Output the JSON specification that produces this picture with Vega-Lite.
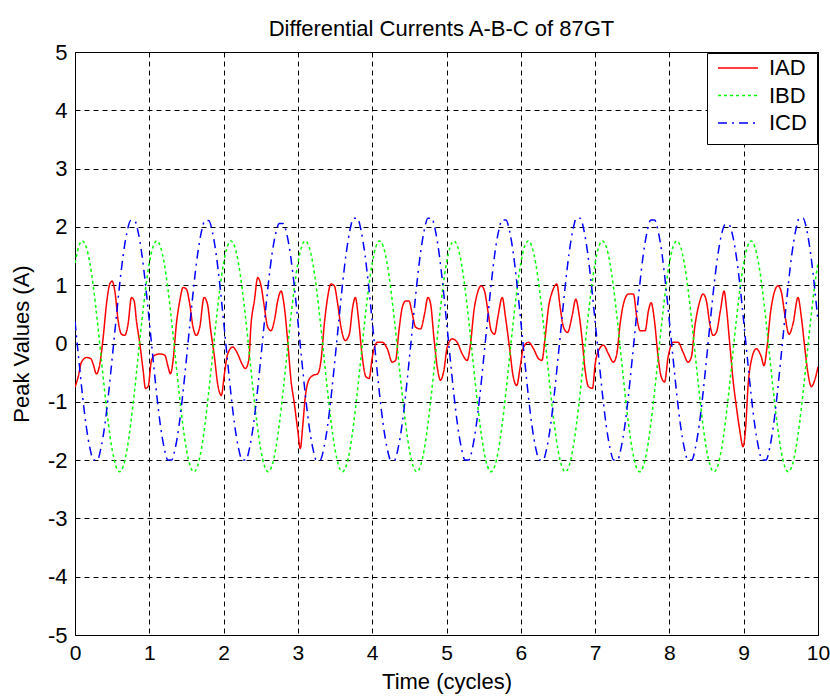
{
  "$schema": "https://vega.github.io/schema/vega-lite/v6.json",
  "width": 743,
  "height": 583,
  "autosize": {"type": "none"},
  "padding": {"left": 75, "top": 52, "right": 12, "bottom": 62},
  "background": "white",
  "title": {"text": "Differential Currents A-B-C of 87GT", "frame": "group", "baseline": "alphabetic", "offset": 18, "dy": 35, "dx": -5, "fontSize": 22, "font": "Liberation Sans", "fontWeight": "normal", "color": "black"},
  "config": {
    "view": {"stroke": "black", "strokeWidth": 1},
    "font": "Liberation Sans",
    "axis": {"grid": true, "gridColor": "black", "gridDash": [5, 4], "gridWidth": 1, "gridOpacity": 1, "ticks": false, "tickSize": 0, "domain": false, "labelFontSize": 22, "labelFont": "Liberation Sans", "labelColor": "black", "labelPadding": 7, "labelFlush": false, "labelOverlap": false, "labelExpr": "'' + datum.value", "titleFontSize": 22, "titleFont": "Liberation Sans", "titleFontWeight": "normal", "titleColor": "black"},
    "legend": {"orient": "top-right", "offset": 1, "fillColor": "white", "strokeColor": "black", "padding": 10, "cornerRadius": 0, "symbolType": "stroke", "symbolSize": 1600, "symbolStrokeWidth": 1.5, "clipHeight": 10, "rowPadding": 5.5, "labelFontSize": 22, "labelFont": "Liberation Sans", "labelColor": "black", "labelOffset": 10, "symbolOffset": 0, "labelExpr": "datum.label + '  '"}
  },
  "data": {"values": [
    {"t":0,"v":-0.75,"s":"IAD"},{"t":0.043,"v":-0.57,"s":"IAD"},{"t":0.087,"v":-0.32,"s":"IAD"},{"t":0.155,"v":-0.24,"s":"IAD"},{"t":0.213,"v":-0.26,"s":"IAD"},{"t":0.244,"v":-0.35,"s":"IAD"},{"t":0.289,"v":-0.52,"s":"IAD"},{"t":0.334,"v":-0.35,"s":"IAD"},{"t":0.379,"v":0.1,"s":"IAD"},{"t":0.424,"v":0.68,"s":"IAD"},{"t":0.468,"v":1.02,"s":"IAD"},{"t":0.5,"v":1.07,"s":"IAD"},{"t":0.536,"v":0.9,"s":"IAD"},{"t":0.581,"v":0.39,"s":"IAD"},{"t":0.625,"v":0.16,"s":"IAD"},{"t":0.67,"v":0.14,"s":"IAD"},{"t":0.715,"v":0.34,"s":"IAD"},{"t":0.76,"v":0.79,"s":"IAD"},{"t":0.796,"v":0.73,"s":"IAD"},{"t":0.827,"v":0.39,"s":"IAD"},{"t":0.872,"v":0.0,"s":"IAD"},{"t":0.917,"v":-0.46,"s":"IAD"},{"t":0.948,"v":-0.77,"s":"IAD"},{"t":0.984,"v":-0.74,"s":"IAD"},
    {"t":1.029,"v":-0.29,"s":"IAD"},{"t":1.074,"v":-0.2,"s":"IAD"},{"t":1.141,"v":-0.18,"s":"IAD"},{"t":1.208,"v":-0.2,"s":"IAD"},{"t":1.253,"v":-0.4,"s":"IAD"},{"t":1.284,"v":-0.52,"s":"IAD"},{"t":1.32,"v":-0.29,"s":"IAD"},{"t":1.365,"v":0.34,"s":"IAD"},{"t":1.41,"v":0.73,"s":"IAD"},{"t":1.455,"v":0.96,"s":"IAD"},{"t":1.5,"v":0.93,"s":"IAD"},{"t":1.544,"v":0.68,"s":"IAD"},{"t":1.589,"v":0.28,"s":"IAD"},{"t":1.634,"v":0.14,"s":"IAD"},{"t":1.679,"v":0.28,"s":"IAD"},{"t":1.737,"v":0.79,"s":"IAD"},{"t":1.782,"v":0.68,"s":"IAD"},{"t":1.827,"v":0.22,"s":"IAD"},{"t":1.872,"v":-0.18,"s":"IAD"},{"t":1.926,"v":-0.74,"s":"IAD"},{"t":1.97,"v":-0.89,"s":"IAD"},
    {"t":2.011,"v":-0.52,"s":"IAD"},{"t":2.055,"v":-0.18,"s":"IAD"},{"t":2.123,"v":-0.06,"s":"IAD"},{"t":2.19,"v":-0.18,"s":"IAD"},{"t":2.248,"v":-0.35,"s":"IAD"},{"t":2.293,"v":-0.43,"s":"IAD"},{"t":2.338,"v":-0.29,"s":"IAD"},{"t":2.37,"v":0.34,"s":"IAD"},{"t":2.414,"v":0.73,"s":"IAD"},{"t":2.459,"v":1.13,"s":"IAD"},{"t":2.504,"v":0.99,"s":"IAD"},{"t":2.549,"v":0.62,"s":"IAD"},{"t":2.594,"v":0.28,"s":"IAD"},{"t":2.638,"v":0.22,"s":"IAD"},{"t":2.683,"v":0.39,"s":"IAD"},{"t":2.728,"v":0.73,"s":"IAD"},{"t":2.773,"v":0.9,"s":"IAD"},{"t":2.818,"v":0.62,"s":"IAD"},{"t":2.862,"v":0.05,"s":"IAD"},{"t":2.907,"v":-0.63,"s":"IAD"},{"t":2.952,"v":-1.03,"s":"IAD"},{"t":2.997,"v":-1.48,"s":"IAD"},
    {"t":3.033,"v":-1.8,"s":"IAD"},{"t":3.064,"v":-1.43,"s":"IAD"},{"t":3.1,"v":-0.91,"s":"IAD"},{"t":3.145,"v":-0.63,"s":"IAD"},{"t":3.199,"v":-0.55,"s":"IAD"},{"t":3.266,"v":-0.52,"s":"IAD"},{"t":3.311,"v":-0.29,"s":"IAD"},{"t":3.356,"v":0.34,"s":"IAD"},{"t":3.4,"v":0.79,"s":"IAD"},{"t":3.445,"v":1.02,"s":"IAD"},{"t":3.49,"v":0.99,"s":"IAD"},{"t":3.535,"v":0.68,"s":"IAD"},{"t":3.58,"v":0.28,"s":"IAD"},{"t":3.638,"v":0.05,"s":"IAD"},{"t":3.692,"v":0.16,"s":"IAD"},{"t":3.737,"v":0.62,"s":"IAD"},{"t":3.773,"v":0.79,"s":"IAD"},{"t":3.818,"v":0.39,"s":"IAD"},{"t":3.862,"v":-0.18,"s":"IAD"},{"t":3.916,"v":-0.57,"s":"IAD"},{"t":3.959,"v":-0.6,"s":"IAD"},
    {"t":4.002,"v":-0.23,"s":"IAD"},{"t":4.069,"v":0.02,"s":"IAD"},{"t":4.136,"v":0.02,"s":"IAD"},{"t":4.203,"v":-0.09,"s":"IAD"},{"t":4.27,"v":-0.32,"s":"IAD"},{"t":4.315,"v":-0.29,"s":"IAD"},{"t":4.36,"v":0.22,"s":"IAD"},{"t":4.405,"v":0.62,"s":"IAD"},{"t":4.45,"v":0.73,"s":"IAD"},{"t":4.494,"v":0.73,"s":"IAD"},{"t":4.539,"v":0.51,"s":"IAD"},{"t":4.584,"v":0.28,"s":"IAD"},{"t":4.651,"v":0.25,"s":"IAD"},{"t":4.705,"v":0.51,"s":"IAD"},{"t":4.75,"v":0.79,"s":"IAD"},{"t":4.786,"v":0.68,"s":"IAD"},{"t":4.83,"v":0.11,"s":"IAD"},{"t":4.875,"v":-0.4,"s":"IAD"},{"t":4.92,"v":-0.63,"s":"IAD"},{"t":4.965,"v":-0.46,"s":"IAD"},
    {"t":5.01,"v":-0.06,"s":"IAD"},{"t":5.077,"v":0.08,"s":"IAD"},{"t":5.144,"v":0.02,"s":"IAD"},{"t":5.212,"v":-0.18,"s":"IAD"},{"t":5.279,"v":-0.29,"s":"IAD"},{"t":5.324,"v":0.0,"s":"IAD"},{"t":5.369,"v":0.56,"s":"IAD"},{"t":5.413,"v":0.85,"s":"IAD"},{"t":5.467,"v":0.99,"s":"IAD"},{"t":5.512,"v":0.9,"s":"IAD"},{"t":5.557,"v":0.56,"s":"IAD"},{"t":5.602,"v":0.22,"s":"IAD"},{"t":5.647,"v":0.16,"s":"IAD"},{"t":5.691,"v":0.45,"s":"IAD"},{"t":5.75,"v":0.79,"s":"IAD"},{"t":5.794,"v":0.45,"s":"IAD"},{"t":5.853,"v":-0.12,"s":"IAD"},{"t":5.898,"v":-0.57,"s":"IAD"},{"t":5.945,"v":-0.72,"s":"IAD"},{"t":5.992,"v":-0.4,"s":"IAD"},
    {"t":6.037,"v":-0.06,"s":"IAD"},{"t":6.104,"v":0.02,"s":"IAD"},{"t":6.171,"v":-0.09,"s":"IAD"},{"t":6.239,"v":-0.26,"s":"IAD"},{"t":6.284,"v":-0.29,"s":"IAD"},{"t":6.328,"v":0.11,"s":"IAD"},{"t":6.373,"v":0.62,"s":"IAD"},{"t":6.427,"v":0.9,"s":"IAD"},{"t":6.485,"v":1.02,"s":"IAD"},{"t":6.53,"v":0.62,"s":"IAD"},{"t":6.575,"v":0.28,"s":"IAD"},{"t":6.629,"v":0.19,"s":"IAD"},{"t":6.687,"v":0.45,"s":"IAD"},{"t":6.741,"v":0.76,"s":"IAD"},{"t":6.777,"v":0.56,"s":"IAD"},{"t":6.822,"v":0.11,"s":"IAD"},{"t":6.866,"v":-0.46,"s":"IAD"},{"t":6.911,"v":-0.74,"s":"IAD"},{"t":6.965,"v":-0.77,"s":"IAD"},
    {"t":7.001,"v":-0.35,"s":"IAD"},{"t":7.046,"v":-0.12,"s":"IAD"},{"t":7.113,"v":-0.03,"s":"IAD"},{"t":7.18,"v":-0.18,"s":"IAD"},{"t":7.247,"v":-0.32,"s":"IAD"},{"t":7.292,"v":-0.18,"s":"IAD"},{"t":7.337,"v":0.34,"s":"IAD"},{"t":7.382,"v":0.68,"s":"IAD"},{"t":7.449,"v":0.85,"s":"IAD"},{"t":7.516,"v":0.85,"s":"IAD"},{"t":7.561,"v":0.45,"s":"IAD"},{"t":7.606,"v":0.22,"s":"IAD"},{"t":7.673,"v":0.22,"s":"IAD"},{"t":7.718,"v":0.56,"s":"IAD"},{"t":7.754,"v":0.7,"s":"IAD"},{"t":7.799,"v":0.39,"s":"IAD"},{"t":7.844,"v":-0.18,"s":"IAD"},{"t":7.889,"v":-0.57,"s":"IAD"},{"t":7.935,"v":-0.66,"s":"IAD"},{"t":7.983,"v":-0.23,"s":"IAD"},
    {"t":8.05,"v":0.02,"s":"IAD"},{"t":8.117,"v":0.02,"s":"IAD"},{"t":8.184,"v":-0.15,"s":"IAD"},{"t":8.252,"v":-0.32,"s":"IAD"},{"t":8.296,"v":-0.23,"s":"IAD"},{"t":8.341,"v":0.28,"s":"IAD"},{"t":8.4,"v":0.68,"s":"IAD"},{"t":8.453,"v":0.85,"s":"IAD"},{"t":8.498,"v":0.73,"s":"IAD"},{"t":8.543,"v":0.34,"s":"IAD"},{"t":8.588,"v":0.14,"s":"IAD"},{"t":8.632,"v":0.19,"s":"IAD"},{"t":8.686,"v":0.56,"s":"IAD"},{"t":8.736,"v":0.9,"s":"IAD"},{"t":8.767,"v":0.62,"s":"IAD"},{"t":8.812,"v":0.0,"s":"IAD"},{"t":8.857,"v":-0.63,"s":"IAD"},{"t":8.902,"v":-1.09,"s":"IAD"},{"t":8.946,"v":-1.48,"s":"IAD"},{"t":8.991,"v":-1.77,"s":"IAD"},
    {"t":9.027,"v":-1.43,"s":"IAD"},{"t":9.058,"v":-0.74,"s":"IAD"},{"t":9.103,"v":-0.29,"s":"IAD"},{"t":9.17,"v":-0.09,"s":"IAD"},{"t":9.237,"v":-0.23,"s":"IAD"},{"t":9.273,"v":-0.38,"s":"IAD"},{"t":9.314,"v":-0.06,"s":"IAD"},{"t":9.359,"v":0.51,"s":"IAD"},{"t":9.417,"v":0.9,"s":"IAD"},{"t":9.462,"v":0.99,"s":"IAD"},{"t":9.507,"v":0.88,"s":"IAD"},{"t":9.552,"v":0.51,"s":"IAD"},{"t":9.61,"v":0.16,"s":"IAD"},{"t":9.664,"v":0.34,"s":"IAD"},{"t":9.731,"v":0.79,"s":"IAD"},{"t":9.776,"v":0.45,"s":"IAD"},{"t":9.821,"v":-0.06,"s":"IAD"},{"t":9.866,"v":-0.52,"s":"IAD"},{"t":9.91,"v":-0.74,"s":"IAD"},{"t":9.955,"v":-0.63,"s":"IAD"},{"t":10,"v":-0.4,"s":"IAD"},

    {"t":0,"v":1.38,"s":"IBD"},{"t":0.05,"v":1.66,"s":"IBD"},{"t":0.1,"v":1.76,"s":"IBD"},{"t":0.15,"v":1.66,"s":"IBD"},{"t":0.2,"v":1.38,"s":"IBD"},{"t":0.25,"v":0.94,"s":"IBD"},{"t":0.3,"v":0.39,"s":"IBD"},{"t":0.35,"v":-0.22,"s":"IBD"},{"t":0.4,"v":-0.83,"s":"IBD"},{"t":0.45,"v":-1.38,"s":"IBD"},{"t":0.5,"v":-1.82,"s":"IBD"},{"t":0.55,"v":-2.1,"s":"IBD"},{"t":0.6,"v":-2.2,"s":"IBD"},{"t":0.65,"v":-2.1,"s":"IBD"},{"t":0.7,"v":-1.82,"s":"IBD"},{"t":0.75,"v":-1.38,"s":"IBD"},{"t":0.8,"v":-0.83,"s":"IBD"},{"t":0.85,"v":-0.22,"s":"IBD"},{"t":0.9,"v":0.39,"s":"IBD"},{"t":0.95,"v":0.94,"s":"IBD"},
    {"t":1,"v":1.38,"s":"IBD"},{"t":1.05,"v":1.66,"s":"IBD"},{"t":1.1,"v":1.76,"s":"IBD"},{"t":1.15,"v":1.66,"s":"IBD"},{"t":1.2,"v":1.38,"s":"IBD"},{"t":1.25,"v":0.94,"s":"IBD"},{"t":1.3,"v":0.39,"s":"IBD"},{"t":1.35,"v":-0.22,"s":"IBD"},{"t":1.4,"v":-0.83,"s":"IBD"},{"t":1.45,"v":-1.38,"s":"IBD"},{"t":1.5,"v":-1.82,"s":"IBD"},{"t":1.55,"v":-2.1,"s":"IBD"},{"t":1.6,"v":-2.2,"s":"IBD"},{"t":1.65,"v":-2.1,"s":"IBD"},{"t":1.7,"v":-1.82,"s":"IBD"},{"t":1.75,"v":-1.38,"s":"IBD"},{"t":1.8,"v":-0.83,"s":"IBD"},{"t":1.85,"v":-0.22,"s":"IBD"},{"t":1.9,"v":0.39,"s":"IBD"},{"t":1.95,"v":0.94,"s":"IBD"},
    {"t":2,"v":1.38,"s":"IBD"},{"t":2.05,"v":1.66,"s":"IBD"},{"t":2.1,"v":1.76,"s":"IBD"},{"t":2.15,"v":1.66,"s":"IBD"},{"t":2.2,"v":1.38,"s":"IBD"},{"t":2.25,"v":0.94,"s":"IBD"},{"t":2.3,"v":0.39,"s":"IBD"},{"t":2.35,"v":-0.22,"s":"IBD"},{"t":2.4,"v":-0.83,"s":"IBD"},{"t":2.45,"v":-1.38,"s":"IBD"},{"t":2.5,"v":-1.82,"s":"IBD"},{"t":2.55,"v":-2.1,"s":"IBD"},{"t":2.6,"v":-2.2,"s":"IBD"},{"t":2.65,"v":-2.1,"s":"IBD"},{"t":2.7,"v":-1.82,"s":"IBD"},{"t":2.75,"v":-1.38,"s":"IBD"},{"t":2.8,"v":-0.83,"s":"IBD"},{"t":2.85,"v":-0.22,"s":"IBD"},{"t":2.9,"v":0.39,"s":"IBD"},{"t":2.95,"v":0.94,"s":"IBD"},
    {"t":3,"v":1.38,"s":"IBD"},{"t":3.05,"v":1.66,"s":"IBD"},{"t":3.1,"v":1.76,"s":"IBD"},{"t":3.15,"v":1.66,"s":"IBD"},{"t":3.2,"v":1.38,"s":"IBD"},{"t":3.25,"v":0.94,"s":"IBD"},{"t":3.3,"v":0.39,"s":"IBD"},{"t":3.35,"v":-0.22,"s":"IBD"},{"t":3.4,"v":-0.83,"s":"IBD"},{"t":3.45,"v":-1.38,"s":"IBD"},{"t":3.5,"v":-1.82,"s":"IBD"},{"t":3.55,"v":-2.1,"s":"IBD"},{"t":3.6,"v":-2.2,"s":"IBD"},{"t":3.65,"v":-2.1,"s":"IBD"},{"t":3.7,"v":-1.82,"s":"IBD"},{"t":3.75,"v":-1.38,"s":"IBD"},{"t":3.8,"v":-0.83,"s":"IBD"},{"t":3.85,"v":-0.22,"s":"IBD"},{"t":3.9,"v":0.39,"s":"IBD"},{"t":3.95,"v":0.94,"s":"IBD"},
    {"t":4,"v":1.38,"s":"IBD"},{"t":4.05,"v":1.66,"s":"IBD"},{"t":4.1,"v":1.76,"s":"IBD"},{"t":4.15,"v":1.66,"s":"IBD"},{"t":4.2,"v":1.38,"s":"IBD"},{"t":4.25,"v":0.94,"s":"IBD"},{"t":4.3,"v":0.39,"s":"IBD"},{"t":4.35,"v":-0.22,"s":"IBD"},{"t":4.4,"v":-0.83,"s":"IBD"},{"t":4.45,"v":-1.38,"s":"IBD"},{"t":4.5,"v":-1.82,"s":"IBD"},{"t":4.55,"v":-2.1,"s":"IBD"},{"t":4.6,"v":-2.2,"s":"IBD"},{"t":4.65,"v":-2.1,"s":"IBD"},{"t":4.7,"v":-1.82,"s":"IBD"},{"t":4.75,"v":-1.38,"s":"IBD"},{"t":4.8,"v":-0.83,"s":"IBD"},{"t":4.85,"v":-0.22,"s":"IBD"},{"t":4.9,"v":0.39,"s":"IBD"},{"t":4.95,"v":0.94,"s":"IBD"},
    {"t":5,"v":1.38,"s":"IBD"},{"t":5.05,"v":1.66,"s":"IBD"},{"t":5.1,"v":1.76,"s":"IBD"},{"t":5.15,"v":1.66,"s":"IBD"},{"t":5.2,"v":1.38,"s":"IBD"},{"t":5.25,"v":0.94,"s":"IBD"},{"t":5.3,"v":0.39,"s":"IBD"},{"t":5.35,"v":-0.22,"s":"IBD"},{"t":5.4,"v":-0.83,"s":"IBD"},{"t":5.45,"v":-1.38,"s":"IBD"},{"t":5.5,"v":-1.82,"s":"IBD"},{"t":5.55,"v":-2.1,"s":"IBD"},{"t":5.6,"v":-2.2,"s":"IBD"},{"t":5.65,"v":-2.1,"s":"IBD"},{"t":5.7,"v":-1.82,"s":"IBD"},{"t":5.75,"v":-1.38,"s":"IBD"},{"t":5.8,"v":-0.83,"s":"IBD"},{"t":5.85,"v":-0.22,"s":"IBD"},{"t":5.9,"v":0.39,"s":"IBD"},{"t":5.95,"v":0.94,"s":"IBD"},
    {"t":6,"v":1.38,"s":"IBD"},{"t":6.05,"v":1.66,"s":"IBD"},{"t":6.1,"v":1.76,"s":"IBD"},{"t":6.15,"v":1.66,"s":"IBD"},{"t":6.2,"v":1.38,"s":"IBD"},{"t":6.25,"v":0.94,"s":"IBD"},{"t":6.3,"v":0.39,"s":"IBD"},{"t":6.35,"v":-0.22,"s":"IBD"},{"t":6.4,"v":-0.83,"s":"IBD"},{"t":6.45,"v":-1.38,"s":"IBD"},{"t":6.5,"v":-1.82,"s":"IBD"},{"t":6.55,"v":-2.1,"s":"IBD"},{"t":6.6,"v":-2.2,"s":"IBD"},{"t":6.65,"v":-2.1,"s":"IBD"},{"t":6.7,"v":-1.82,"s":"IBD"},{"t":6.75,"v":-1.38,"s":"IBD"},{"t":6.8,"v":-0.83,"s":"IBD"},{"t":6.85,"v":-0.22,"s":"IBD"},{"t":6.9,"v":0.39,"s":"IBD"},{"t":6.95,"v":0.94,"s":"IBD"},
    {"t":7,"v":1.38,"s":"IBD"},{"t":7.05,"v":1.66,"s":"IBD"},{"t":7.1,"v":1.76,"s":"IBD"},{"t":7.15,"v":1.66,"s":"IBD"},{"t":7.2,"v":1.38,"s":"IBD"},{"t":7.25,"v":0.94,"s":"IBD"},{"t":7.3,"v":0.39,"s":"IBD"},{"t":7.35,"v":-0.22,"s":"IBD"},{"t":7.4,"v":-0.83,"s":"IBD"},{"t":7.45,"v":-1.38,"s":"IBD"},{"t":7.5,"v":-1.82,"s":"IBD"},{"t":7.55,"v":-2.1,"s":"IBD"},{"t":7.6,"v":-2.2,"s":"IBD"},{"t":7.65,"v":-2.1,"s":"IBD"},{"t":7.7,"v":-1.82,"s":"IBD"},{"t":7.75,"v":-1.38,"s":"IBD"},{"t":7.8,"v":-0.83,"s":"IBD"},{"t":7.85,"v":-0.22,"s":"IBD"},{"t":7.9,"v":0.39,"s":"IBD"},{"t":7.95,"v":0.94,"s":"IBD"},
    {"t":8,"v":1.38,"s":"IBD"},{"t":8.05,"v":1.66,"s":"IBD"},{"t":8.1,"v":1.76,"s":"IBD"},{"t":8.15,"v":1.66,"s":"IBD"},{"t":8.2,"v":1.38,"s":"IBD"},{"t":8.25,"v":0.94,"s":"IBD"},{"t":8.3,"v":0.39,"s":"IBD"},{"t":8.35,"v":-0.22,"s":"IBD"},{"t":8.4,"v":-0.83,"s":"IBD"},{"t":8.45,"v":-1.38,"s":"IBD"},{"t":8.5,"v":-1.82,"s":"IBD"},{"t":8.55,"v":-2.1,"s":"IBD"},{"t":8.6,"v":-2.2,"s":"IBD"},{"t":8.65,"v":-2.1,"s":"IBD"},{"t":8.7,"v":-1.82,"s":"IBD"},{"t":8.75,"v":-1.38,"s":"IBD"},{"t":8.8,"v":-0.83,"s":"IBD"},{"t":8.85,"v":-0.22,"s":"IBD"},{"t":8.9,"v":0.39,"s":"IBD"},{"t":8.95,"v":0.94,"s":"IBD"},
    {"t":9,"v":1.38,"s":"IBD"},{"t":9.05,"v":1.66,"s":"IBD"},{"t":9.1,"v":1.76,"s":"IBD"},{"t":9.15,"v":1.66,"s":"IBD"},{"t":9.2,"v":1.38,"s":"IBD"},{"t":9.25,"v":0.94,"s":"IBD"},{"t":9.3,"v":0.39,"s":"IBD"},{"t":9.35,"v":-0.22,"s":"IBD"},{"t":9.4,"v":-0.83,"s":"IBD"},{"t":9.45,"v":-1.38,"s":"IBD"},{"t":9.5,"v":-1.82,"s":"IBD"},{"t":9.55,"v":-2.1,"s":"IBD"},{"t":9.6,"v":-2.2,"s":"IBD"},{"t":9.65,"v":-2.1,"s":"IBD"},{"t":9.7,"v":-1.82,"s":"IBD"},{"t":9.75,"v":-1.38,"s":"IBD"},{"t":9.8,"v":-0.83,"s":"IBD"},{"t":9.85,"v":-0.22,"s":"IBD"},{"t":9.9,"v":0.39,"s":"IBD"},{"t":9.95,"v":0.94,"s":"IBD"},{"t":10,"v":1.38,"s":"IBD"},

    {"t":0,"v":0.38,"s":"ICD"},{"t":0.05,"v":-0.26,"s":"ICD"},{"t":0.1,"v":-0.88,"s":"ICD"},{"t":0.15,"v":-1.41,"s":"ICD"},{"t":0.2,"v":-1.79,"s":"ICD"},{"t":0.25,"v":-2,"s":"ICD"},{"t":0.3,"v":-2,"s":"ICD"},{"t":0.35,"v":-1.79,"s":"ICD"},{"t":0.4,"v":-1.41,"s":"ICD"},{"t":0.45,"v":-0.88,"s":"ICD"},{"t":0.5,"v":-0.26,"s":"ICD"},{"t":0.55,"v":0.38,"s":"ICD"},{"t":0.6,"v":1,"s":"ICD"},{"t":0.65,"v":1.53,"s":"ICD"},{"t":0.7,"v":1.91,"s":"ICD"},{"t":0.75,"v":2.11,"s":"ICD"},{"t":0.8,"v":2.11,"s":"ICD"},{"t":0.85,"v":1.91,"s":"ICD"},{"t":0.9,"v":1.53,"s":"ICD"},{"t":0.95,"v":1,"s":"ICD"},
    {"t":1,"v":0.38,"s":"ICD"},{"t":1.05,"v":-0.26,"s":"ICD"},{"t":1.1,"v":-0.88,"s":"ICD"},{"t":1.15,"v":-1.41,"s":"ICD"},{"t":1.2,"v":-1.79,"s":"ICD"},{"t":1.25,"v":-2,"s":"ICD"},{"t":1.3,"v":-2,"s":"ICD"},{"t":1.35,"v":-1.79,"s":"ICD"},{"t":1.4,"v":-1.41,"s":"ICD"},{"t":1.45,"v":-0.88,"s":"ICD"},{"t":1.5,"v":-0.26,"s":"ICD"},{"t":1.55,"v":0.38,"s":"ICD"},{"t":1.6,"v":1,"s":"ICD"},{"t":1.65,"v":1.53,"s":"ICD"},{"t":1.7,"v":1.91,"s":"ICD"},{"t":1.75,"v":2.11,"s":"ICD"},{"t":1.8,"v":2.11,"s":"ICD"},{"t":1.85,"v":1.91,"s":"ICD"},{"t":1.9,"v":1.53,"s":"ICD"},{"t":1.95,"v":1,"s":"ICD"},
    {"t":2,"v":0.38,"s":"ICD"},{"t":2.05,"v":-0.26,"s":"ICD"},{"t":2.1,"v":-0.88,"s":"ICD"},{"t":2.15,"v":-1.41,"s":"ICD"},{"t":2.2,"v":-1.79,"s":"ICD"},{"t":2.25,"v":-2,"s":"ICD"},{"t":2.3,"v":-2,"s":"ICD"},{"t":2.35,"v":-1.79,"s":"ICD"},{"t":2.4,"v":-1.41,"s":"ICD"},{"t":2.45,"v":-0.88,"s":"ICD"},{"t":2.5,"v":-0.26,"s":"ICD"},{"t":2.55,"v":0.38,"s":"ICD"},{"t":2.6,"v":1,"s":"ICD"},{"t":2.65,"v":1.52,"s":"ICD"},{"t":2.7,"v":1.88,"s":"ICD"},{"t":2.75,"v":2.06,"s":"ICD"},{"t":2.8,"v":2.06,"s":"ICD"},{"t":2.85,"v":1.88,"s":"ICD"},{"t":2.9,"v":1.52,"s":"ICD"},{"t":2.95,"v":1,"s":"ICD"},
    {"t":3,"v":0.38,"s":"ICD"},{"t":3.05,"v":-0.26,"s":"ICD"},{"t":3.1,"v":-0.88,"s":"ICD"},{"t":3.15,"v":-1.41,"s":"ICD"},{"t":3.2,"v":-1.79,"s":"ICD"},{"t":3.25,"v":-2,"s":"ICD"},{"t":3.3,"v":-2,"s":"ICD"},{"t":3.35,"v":-1.79,"s":"ICD"},{"t":3.4,"v":-1.41,"s":"ICD"},{"t":3.45,"v":-0.88,"s":"ICD"},{"t":3.5,"v":-0.26,"s":"ICD"},{"t":3.55,"v":0.38,"s":"ICD"},{"t":3.6,"v":1.01,"s":"ICD"},{"t":3.65,"v":1.55,"s":"ICD"},{"t":3.7,"v":1.94,"s":"ICD"},{"t":3.75,"v":2.15,"s":"ICD"},{"t":3.8,"v":2.15,"s":"ICD"},{"t":3.85,"v":1.94,"s":"ICD"},{"t":3.9,"v":1.55,"s":"ICD"},{"t":3.95,"v":1.01,"s":"ICD"},
    {"t":4,"v":0.38,"s":"ICD"},{"t":4.05,"v":-0.26,"s":"ICD"},{"t":4.1,"v":-0.88,"s":"ICD"},{"t":4.15,"v":-1.41,"s":"ICD"},{"t":4.2,"v":-1.79,"s":"ICD"},{"t":4.25,"v":-2,"s":"ICD"},{"t":4.3,"v":-2,"s":"ICD"},{"t":4.35,"v":-1.79,"s":"ICD"},{"t":4.4,"v":-1.41,"s":"ICD"},{"t":4.45,"v":-0.88,"s":"ICD"},{"t":4.5,"v":-0.26,"s":"ICD"},{"t":4.55,"v":0.38,"s":"ICD"},{"t":4.6,"v":1.01,"s":"ICD"},{"t":4.65,"v":1.55,"s":"ICD"},{"t":4.7,"v":1.94,"s":"ICD"},{"t":4.75,"v":2.15,"s":"ICD"},{"t":4.8,"v":2.15,"s":"ICD"},{"t":4.85,"v":1.94,"s":"ICD"},{"t":4.9,"v":1.55,"s":"ICD"},{"t":4.95,"v":1.01,"s":"ICD"},
    {"t":5,"v":0.38,"s":"ICD"},{"t":5.05,"v":-0.26,"s":"ICD"},{"t":5.1,"v":-0.88,"s":"ICD"},{"t":5.15,"v":-1.41,"s":"ICD"},{"t":5.2,"v":-1.79,"s":"ICD"},{"t":5.25,"v":-2,"s":"ICD"},{"t":5.3,"v":-2,"s":"ICD"},{"t":5.35,"v":-1.79,"s":"ICD"},{"t":5.4,"v":-1.41,"s":"ICD"},{"t":5.45,"v":-0.88,"s":"ICD"},{"t":5.5,"v":-0.26,"s":"ICD"},{"t":5.55,"v":0.38,"s":"ICD"},{"t":5.6,"v":1,"s":"ICD"},{"t":5.65,"v":1.54,"s":"ICD"},{"t":5.7,"v":1.92,"s":"ICD"},{"t":5.75,"v":2.12,"s":"ICD"},{"t":5.8,"v":2.12,"s":"ICD"},{"t":5.85,"v":1.92,"s":"ICD"},{"t":5.9,"v":1.54,"s":"ICD"},{"t":5.95,"v":1,"s":"ICD"},
    {"t":6,"v":0.38,"s":"ICD"},{"t":6.05,"v":-0.26,"s":"ICD"},{"t":6.1,"v":-0.88,"s":"ICD"},{"t":6.15,"v":-1.41,"s":"ICD"},{"t":6.2,"v":-1.79,"s":"ICD"},{"t":6.25,"v":-2,"s":"ICD"},{"t":6.3,"v":-2,"s":"ICD"},{"t":6.35,"v":-1.79,"s":"ICD"},{"t":6.4,"v":-1.41,"s":"ICD"},{"t":6.45,"v":-0.88,"s":"ICD"},{"t":6.5,"v":-0.26,"s":"ICD"},{"t":6.55,"v":0.38,"s":"ICD"},{"t":6.6,"v":1.01,"s":"ICD"},{"t":6.65,"v":1.55,"s":"ICD"},{"t":6.7,"v":1.94,"s":"ICD"},{"t":6.75,"v":2.15,"s":"ICD"},{"t":6.8,"v":2.15,"s":"ICD"},{"t":6.85,"v":1.94,"s":"ICD"},{"t":6.9,"v":1.55,"s":"ICD"},{"t":6.95,"v":1.01,"s":"ICD"},
    {"t":7,"v":0.38,"s":"ICD"},{"t":7.05,"v":-0.26,"s":"ICD"},{"t":7.1,"v":-0.88,"s":"ICD"},{"t":7.15,"v":-1.41,"s":"ICD"},{"t":7.2,"v":-1.79,"s":"ICD"},{"t":7.25,"v":-2,"s":"ICD"},{"t":7.3,"v":-2,"s":"ICD"},{"t":7.35,"v":-1.79,"s":"ICD"},{"t":7.4,"v":-1.41,"s":"ICD"},{"t":7.45,"v":-0.88,"s":"ICD"},{"t":7.5,"v":-0.26,"s":"ICD"},{"t":7.55,"v":0.38,"s":"ICD"},{"t":7.6,"v":1,"s":"ICD"},{"t":7.65,"v":1.54,"s":"ICD"},{"t":7.7,"v":1.92,"s":"ICD"},{"t":7.75,"v":2.12,"s":"ICD"},{"t":7.8,"v":2.12,"s":"ICD"},{"t":7.85,"v":1.92,"s":"ICD"},{"t":7.9,"v":1.54,"s":"ICD"},{"t":7.95,"v":1,"s":"ICD"},
    {"t":8,"v":0.38,"s":"ICD"},{"t":8.05,"v":-0.26,"s":"ICD"},{"t":8.1,"v":-0.88,"s":"ICD"},{"t":8.15,"v":-1.41,"s":"ICD"},{"t":8.2,"v":-1.79,"s":"ICD"},{"t":8.25,"v":-2,"s":"ICD"},{"t":8.3,"v":-2,"s":"ICD"},{"t":8.35,"v":-1.79,"s":"ICD"},{"t":8.4,"v":-1.41,"s":"ICD"},{"t":8.45,"v":-0.88,"s":"ICD"},{"t":8.5,"v":-0.26,"s":"ICD"},{"t":8.55,"v":0.38,"s":"ICD"},{"t":8.6,"v":0.99,"s":"ICD"},{"t":8.65,"v":1.5,"s":"ICD"},{"t":8.7,"v":1.86,"s":"ICD"},{"t":8.75,"v":2.04,"s":"ICD"},{"t":8.8,"v":2.04,"s":"ICD"},{"t":8.85,"v":1.86,"s":"ICD"},{"t":8.9,"v":1.5,"s":"ICD"},{"t":8.95,"v":0.99,"s":"ICD"},
    {"t":9,"v":0.38,"s":"ICD"},{"t":9.05,"v":-0.26,"s":"ICD"},{"t":9.1,"v":-0.88,"s":"ICD"},{"t":9.15,"v":-1.41,"s":"ICD"},{"t":9.2,"v":-1.79,"s":"ICD"},{"t":9.25,"v":-2,"s":"ICD"},{"t":9.3,"v":-2,"s":"ICD"},{"t":9.35,"v":-1.79,"s":"ICD"},{"t":9.4,"v":-1.41,"s":"ICD"},{"t":9.45,"v":-0.88,"s":"ICD"},{"t":9.5,"v":-0.26,"s":"ICD"},{"t":9.55,"v":0.38,"s":"ICD"},{"t":9.6,"v":1.01,"s":"ICD"},{"t":9.65,"v":1.55,"s":"ICD"},{"t":9.7,"v":1.94,"s":"ICD"},{"t":9.75,"v":2.15,"s":"ICD"},{"t":9.8,"v":2.15,"s":"ICD"},{"t":9.85,"v":1.94,"s":"ICD"},{"t":9.9,"v":1.55,"s":"ICD"},{"t":9.95,"v":1.01,"s":"ICD"},{"t":10,"v":0.38,"s":"ICD"}
  ]},
  "mark": {"type": "line", "strokeWidth": 1.5, "interpolate": "monotone", "clip": true},
  "encoding": {
    "x": {"field": "t", "type": "quantitative", "scale": {"domain": [0, 10], "nice": false, "zero": false}, "axis": {"values": [0,1,2,3,4,5,6,7,8,9,10], "title": "Time (cycles)", "titlePadding": 8, "labelPadding": 7, "labelFontSize": 21}},
    "y": {"field": "v", "type": "quantitative", "scale": {"domain": [-5, 5], "nice": false}, "axis": {"values": [-5,-4,-3,-2,-1,0,1,2,3,4,5], "title": "Peak Values (A)", "titlePadding": 14, "labelPadding": 8}},
    "color": {"field": "s", "type": "nominal", "scale": {"domain": ["IAD", "IBD", "ICD"], "range": ["#ff0000", "#00ff00", "#0000ff"]}, "legend": {"title": null}},
    "strokeDash": {"field": "s", "type": "nominal", "scale": {"domain": ["IAD", "IBD", "ICD"], "range": [[1, 0], [3, 3], [9, 5, 2, 5]]}, "legend": {"title": null}}
  }
}
